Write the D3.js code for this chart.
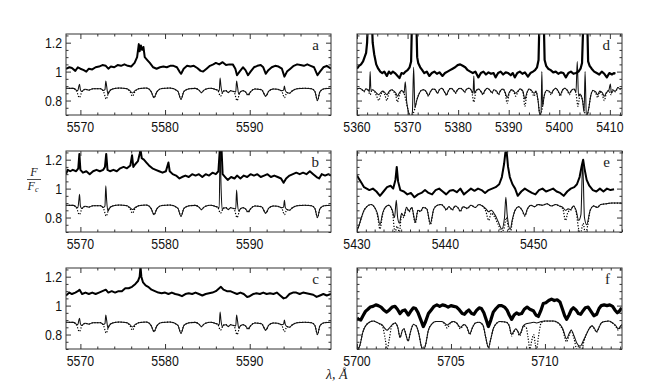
<!DOCTYPE html>
<html><head><meta charset="utf-8">
<script src="https://cdn.jsdelivr.net/npm/d3@7"></script>
<style>body{margin:0;background:#fff}svg{display:block}</style>
</head><body><svg id="c" width="660" height="390"></svg>
<script>
// ---------------- DATA ----------------
const leftTicks=[5570,5580,5590], leftTickLabels=["5570","5580","5590"];
const dTicks=[5360,5370,5380,5390,5400,5410], dTickLabels=["5360","5370","5380","5390","5400","5410"];
const eTicks=[5430,5440,5450], eTickLabels=["5430","5440","5450"];
const fTicks=[5700,5705,5710], fTickLabels=["5700","5705","5710"];
const yTicks=[0.8,1,1.2], yTickLabels=["0.8","1","1.2"];
const panelLetters=["a","b","c","d","e","f"];

const obsA=[[5568.3,1.02],[5568.7,1.03],[5569.0,1.025],[5569.4,1.005],[5569.7,1.03],[5570.0,1.02],[5570.4,1.01],[5570.7,1.0],[5571.0,1.02],[5571.4,1.015],[5571.8,1.03],[5572.2,1.035],[5572.6,1.045],[5573.0,1.04],[5573.3,1.02],[5573.6,1.035],[5574.0,1.03],[5574.4,1.045],[5574.8,1.04],[5575.2,1.05],[5575.6,1.04],[5576.0,1.035],[5576.4,1.06],[5576.7,1.1],[5576.9,1.19],[5577.0,1.14],[5577.15,1.18],[5577.3,1.15],[5577.45,1.17],[5577.6,1.1],[5577.9,1.08],[5578.2,1.06],[5578.6,1.03],[5579.0,1.02],[5579.4,1.03],[5579.8,1.035],[5580.2,1.03],[5580.6,1.04],[5581.0,1.04],[5581.4,1.03],[5581.7,1.0],[5581.9,0.985],[5582.2,1.02],[5582.6,1.04],[5583.0,1.035],[5583.4,1.04],[5583.8,1.025],[5584.2,1.005],[5584.5,1.0],[5584.9,1.02],[5585.3,1.04],[5585.7,1.05],[5586.0,1.06],[5586.4,1.05],[5586.8,1.065],[5587.2,1.045],[5587.6,1.05],[5588.0,1.05],[5588.3,1.02],[5588.5,0.975],[5588.8,1.0],[5589.2,1.03],[5589.5,1.01],[5589.8,0.975],[5590.1,1.0],[5590.5,1.03],[5590.9,1.04],[5591.3,1.045],[5591.6,1.03],[5591.9,0.985],[5592.2,1.01],[5592.6,1.03],[5593.0,1.04],[5593.4,1.035],[5593.8,1.02],[5594.1,0.965],[5594.4,1.0],[5594.8,1.02],[5595.2,1.04],[5595.6,1.05],[5596.0,1.045],[5596.4,1.04],[5596.8,1.05],[5597.2,1.04],[5597.6,1.03],[5598.0,0.975],[5598.3,1.0],[5598.7,1.03],[5599.1,1.04],[5599.6,1.02]];

const obsB=[[5568.3,1.1],[5568.5,1.13],[5568.8,1.12],[5569.1,1.13],[5569.5,1.12],[5569.75,1.14],[5569.88,1.24],[5570.0,1.13],[5570.3,1.11],[5570.7,1.12],[5571.1,1.1],[5571.5,1.12],[5571.9,1.13],[5572.3,1.12],[5572.7,1.13],[5572.9,1.15],[5573.05,1.24],[5573.2,1.13],[5573.5,1.12],[5573.9,1.13],[5574.3,1.12],[5574.7,1.14],[5575.1,1.15],[5575.5,1.14],[5575.9,1.16],[5576.1,1.23],[5576.25,1.15],[5576.5,1.17],[5576.8,1.19],[5577.0,1.24],[5577.1,1.27],[5577.25,1.21],[5577.5,1.2],[5577.8,1.18],[5578.1,1.16],[5578.5,1.14],[5578.9,1.13],[5579.3,1.12],[5579.7,1.11],[5580.1,1.12],[5580.4,1.18],[5580.55,1.12],[5580.9,1.1],[5581.3,1.09],[5581.7,1.07],[5582.0,1.08],[5582.4,1.09],[5582.8,1.08],[5583.2,1.1],[5583.6,1.09],[5584.0,1.1],[5584.4,1.08],[5584.8,1.1],[5585.2,1.09],[5585.6,1.11],[5586.0,1.1],[5586.3,1.12],[5586.5,1.3],[5586.65,1.3],[5586.8,1.1],[5587.1,1.08],[5587.4,1.06],[5587.8,1.08],[5588.2,1.07],[5588.5,1.09],[5588.9,1.07],[5589.3,1.09],[5589.7,1.08],[5590.1,1.1],[5590.5,1.09],[5590.9,1.1],[5591.3,1.08],[5591.7,1.09],[5592.1,1.1],[5592.5,1.08],[5592.9,1.09],[5593.3,1.08],[5593.7,1.07],[5594.0,1.04],[5594.3,1.07],[5594.7,1.09],[5595.1,1.1],[5595.5,1.11],[5595.9,1.1],[5596.3,1.11],[5596.7,1.1],[5597.1,1.12],[5597.5,1.1],[5597.9,1.08],[5598.2,1.07],[5598.5,1.1],[5598.9,1.09],[5599.3,1.1],[5599.6,1.09]];

const obsC=[[5568.3,1.07],[5568.7,1.09],[5569.0,1.08],[5569.4,1.09],[5569.7,1.1],[5569.9,1.11],[5570.2,1.08],[5570.6,1.09],[5571.0,1.08],[5571.4,1.09],[5571.8,1.08],[5572.2,1.09],[5572.6,1.1],[5573.0,1.11],[5573.3,1.09],[5573.7,1.1],[5574.1,1.09],[5574.5,1.1],[5574.9,1.1],[5575.3,1.12],[5575.7,1.12],[5576.1,1.13],[5576.5,1.15],[5576.8,1.17],[5577.0,1.2],[5577.1,1.27],[5577.2,1.2],[5577.4,1.16],[5577.7,1.14],[5578.0,1.13],[5578.4,1.11],[5578.8,1.1],[5579.2,1.09],[5579.6,1.085],[5580.0,1.09],[5580.4,1.08],[5580.8,1.09],[5581.2,1.08],[5581.6,1.075],[5582.0,1.065],[5582.4,1.08],[5582.8,1.085],[5583.2,1.08],[5583.6,1.09],[5584.0,1.08],[5584.4,1.07],[5584.8,1.08],[5585.2,1.085],[5585.6,1.09],[5586.0,1.1],[5586.4,1.12],[5586.6,1.13],[5586.9,1.11],[5587.3,1.1],[5587.7,1.1],[5588.1,1.09],[5588.5,1.08],[5588.9,1.09],[5589.3,1.08],[5589.7,1.06],[5590.0,1.065],[5590.4,1.08],[5590.8,1.085],[5591.2,1.08],[5591.6,1.09],[5592.0,1.08],[5592.4,1.085],[5592.8,1.08],[5593.2,1.09],[5593.6,1.07],[5594.0,1.05],[5594.3,1.055],[5594.7,1.08],[5595.1,1.09],[5595.5,1.09],[5595.9,1.08],[5596.3,1.09],[5596.7,1.085],[5597.1,1.08],[5597.5,1.075],[5597.9,1.06],[5598.3,1.07],[5598.7,1.08],[5599.1,1.07],[5599.6,1.08]];

const modelAbsLeft=[[5568.3,0.885],[5569.2,0.884],[5569.55,0.865],[5569.88,0.82],[5570.2,0.865],[5570.6,0.878],[5571.0,0.872],[5571.5,0.882],[5572.4,0.882],[5572.75,0.86],[5573.05,0.81],[5573.35,0.86],[5573.8,0.88],[5574.6,0.886],[5575.5,0.882],[5575.85,0.862],[5576.15,0.83],[5576.45,0.862],[5576.9,0.882],[5577.8,0.886],[5578.35,0.862],[5578.7,0.82],[5579.05,0.862],[5579.6,0.883],[5580.6,0.886],[5581.5,0.865],[5581.88,0.81],[5582.25,0.865],[5582.9,0.882],[5583.6,0.884],[5584.0,0.872],[5584.3,0.855],[5584.6,0.872],[5585.3,0.885],[5586.2,0.872],[5586.55,0.83],[5586.9,0.865],[5587.2,0.868],[5587.45,0.855],[5587.75,0.868],[5588.15,0.86],[5588.5,0.80],[5588.85,0.855],[5589.2,0.868],[5589.5,0.86],[5589.8,0.835],[5590.1,0.86],[5590.6,0.88],[5591.4,0.875],[5591.9,0.83],[5592.25,0.865],[5592.8,0.88],[5593.3,0.878],[5593.8,0.862],[5594.1,0.82],[5594.4,0.855],[5594.7,0.85],[5595.0,0.866],[5595.6,0.882],[5596.5,0.885],[5597.3,0.882],[5597.7,0.862],[5598.0,0.80],[5598.3,0.862],[5598.8,0.882],[5599.6,0.885]];

const modelEmisAC=[[5568.3,0.885],[5569.2,0.884],[5569.5,0.872],[5569.7,0.868],[5569.82,0.9],[5569.9,0.913],[5570.0,0.875],[5570.15,0.862],[5570.35,0.872],[5570.6,0.878],[5571.0,0.872],[5571.5,0.882],[5572.4,0.882],[5572.7,0.87],[5572.9,0.875],[5573.0,0.935],[5573.1,0.9],[5573.25,0.845],[5573.45,0.865],[5573.8,0.88],[5574.6,0.886],[5575.5,0.882],[5575.85,0.868],[5576.15,0.852],[5576.45,0.868],[5576.9,0.882],[5577.8,0.886],[5578.35,0.862],[5578.7,0.82],[5579.05,0.862],[5579.6,0.883],[5580.6,0.886],[5581.5,0.865],[5581.88,0.81],[5582.25,0.865],[5582.9,0.882],[5583.6,0.884],[5584.0,0.872],[5584.3,0.855],[5584.6,0.872],[5585.3,0.885],[5586.2,0.872],[5586.4,0.868],[5586.5,0.955],[5586.6,0.9],[5586.75,0.855],[5586.95,0.866],[5587.2,0.868],[5587.45,0.855],[5587.75,0.868],[5588.15,0.862],[5588.35,0.86],[5588.45,0.935],[5588.55,0.9],[5588.7,0.845],[5588.9,0.86],[5589.2,0.868],[5589.5,0.86],[5589.8,0.84],[5590.1,0.86],[5590.6,0.88],[5591.4,0.875],[5591.9,0.83],[5592.25,0.865],[5592.8,0.88],[5593.3,0.878],[5593.8,0.868],[5594.0,0.872],[5594.1,0.9],[5594.2,0.87],[5594.4,0.855],[5594.7,0.85],[5595.0,0.866],[5595.6,0.882],[5596.5,0.885],[5597.3,0.882],[5597.7,0.862],[5598.0,0.80],[5598.3,0.862],[5598.8,0.882],[5599.6,0.885]];

const modelEmisB=[[5568.3,0.885],[5569.2,0.884],[5569.5,0.872],[5569.7,0.868],[5569.82,0.92],[5569.9,0.96],[5570.0,0.88],[5570.15,0.862],[5570.35,0.872],[5570.6,0.878],[5571.0,0.872],[5571.5,0.882],[5572.4,0.882],[5572.7,0.87],[5572.9,0.88],[5573.0,1.02],[5573.1,0.92],[5573.25,0.845],[5573.45,0.865],[5573.8,0.88],[5574.6,0.886],[5575.5,0.882],[5575.85,0.868],[5576.15,0.855],[5576.45,0.868],[5576.9,0.882],[5577.8,0.886],[5578.35,0.862],[5578.7,0.82],[5579.05,0.862],[5579.6,0.883],[5580.6,0.886],[5581.5,0.865],[5581.88,0.81],[5582.25,0.865],[5582.9,0.882],[5583.6,0.884],[5584.0,0.872],[5584.3,0.855],[5584.6,0.872],[5585.3,0.885],[5586.2,0.872],[5586.4,0.868],[5586.5,1.3],[5586.62,1.0],[5586.75,0.855],[5586.95,0.866],[5587.2,0.868],[5587.45,0.855],[5587.75,0.868],[5588.15,0.862],[5588.35,0.86],[5588.45,0.99],[5588.55,0.9],[5588.7,0.845],[5588.9,0.86],[5589.2,0.868],[5589.5,0.86],[5589.8,0.84],[5590.1,0.86],[5590.6,0.88],[5591.4,0.875],[5591.9,0.83],[5592.25,0.865],[5592.8,0.88],[5593.3,0.878],[5593.8,0.868],[5594.0,0.872],[5594.1,0.92],[5594.2,0.87],[5594.4,0.855],[5594.7,0.85],[5595.0,0.866],[5595.6,0.882],[5596.5,0.885],[5597.3,0.882],[5597.7,0.862],[5598.0,0.80],[5598.3,0.862],[5598.8,0.882],[5599.6,0.885]];

const obsD=[[5360.0,1.02],[5360.4,1.04],[5360.8,1.05],[5361.2,1.07],[5361.5,1.1],[5361.8,1.13],[5362.0,1.2],[5362.2,1.4],[5362.9,1.4],[5363.1,1.2],[5363.4,1.12],[5363.8,1.05],[5364.2,1.02],[5364.6,1.0],[5365.0,0.99],[5365.4,1.0],[5365.9,0.97],[5366.3,1.0],[5366.7,0.985],[5367.1,1.0],[5367.5,0.99],[5367.9,0.975],[5368.4,0.955],[5368.8,0.99],[5369.2,0.985],[5369.6,1.0],[5370.0,1.01],[5370.4,1.03],[5370.7,1.07],[5370.9,1.4],[5371.7,1.4],[5371.9,1.1],[5372.1,1.06],[5372.5,1.03],[5372.9,1.01],[5373.3,0.99],[5373.8,1.0],[5374.3,0.97],[5374.8,0.99],[5375.3,1.0],[5375.8,0.985],[5376.3,0.995],[5376.9,0.97],[5377.4,0.99],[5377.9,1.0],[5378.4,1.01],[5378.9,1.02],[5379.4,1.03],[5379.9,1.045],[5380.4,1.05],[5380.9,1.04],[5381.4,1.03],[5381.9,1.01],[5382.4,1.0],[5382.9,0.99],[5383.4,1.0],[5384.0,0.96],[5384.5,0.99],[5385.0,1.0],[5385.5,0.98],[5386.0,0.995],[5386.5,0.985],[5387.0,0.99],[5387.4,0.96],[5387.9,0.99],[5388.4,1.0],[5388.9,0.98],[5389.4,0.995],[5389.9,0.99],[5390.4,0.975],[5390.8,0.99],[5391.2,0.96],[5391.7,0.99],[5392.2,1.0],[5392.7,0.985],[5393.2,0.995],[5393.8,0.965],[5394.3,0.99],[5394.8,1.0],[5395.2,1.01],[5395.6,1.03],[5395.9,1.08],[5396.1,1.4],[5396.9,1.4],[5397.1,1.08],[5397.4,1.04],[5397.8,1.02],[5398.3,1.01],[5398.8,0.995],[5399.3,1.0],[5399.8,0.985],[5400.3,0.995],[5400.8,0.99],[5401.3,0.96],[5401.8,0.99],[5402.3,1.0],[5402.8,0.985],[5403.3,0.99],[5403.8,1.0],[5404.2,1.02],[5404.5,1.06],[5404.8,1.4],[5405.5,1.4],[5405.7,1.07],[5406.0,1.04],[5406.4,1.02],[5406.9,1.0],[5407.4,0.99],[5407.9,0.98],[5408.4,1.0],[5408.9,0.985],[5409.4,0.96],[5409.9,0.99],[5410.4,0.98],[5410.8,0.99],[5411.1,0.985]];

const modelAbsD=[[5360.0,0.88],[5360.5,0.885],[5361.0,0.875],[5361.4,0.86],[5361.8,0.88],[5362.2,0.87],[5362.6,0.84],[5363.0,0.875],[5363.5,0.86],[5363.9,0.83],[5364.3,0.8],[5364.7,0.84],[5365.1,0.86],[5365.5,0.84],[5365.9,0.8],[5366.3,0.85],[5366.8,0.875],[5367.3,0.86],[5367.7,0.83],[5368.0,0.79],[5368.4,0.84],[5368.9,0.87],[5369.4,0.84],[5369.8,0.78],[5370.2,0.72],[5370.6,0.68],[5371.0,0.7],[5371.4,0.74],[5371.8,0.8],[5372.2,0.84],[5372.7,0.87],[5373.2,0.875],[5373.7,0.86],[5374.1,0.83],[5374.5,0.86],[5375.0,0.88],[5375.5,0.875],[5375.9,0.85],[5376.3,0.875],[5376.8,0.885],[5377.3,0.86],[5377.7,0.835],[5378.1,0.87],[5378.6,0.885],[5379.1,0.87],[5379.5,0.85],[5379.9,0.875],[5380.4,0.885],[5380.9,0.875],[5381.3,0.855],[5381.7,0.88],[5382.2,0.885],[5382.7,0.86],[5383.1,0.79],[5383.5,0.86],[5384.0,0.88],[5384.5,0.86],[5384.9,0.84],[5385.3,0.87],[5385.8,0.885],[5386.3,0.87],[5386.7,0.85],[5387.1,0.875],[5387.6,0.86],[5388.0,0.84],[5388.4,0.87],[5388.9,0.88],[5389.3,0.85],[5389.7,0.78],[5390.1,0.85],[5390.6,0.875],[5391.0,0.86],[5391.4,0.83],[5391.8,0.86],[5392.3,0.88],[5392.8,0.86],[5393.2,0.76],[5393.6,0.85],[5394.1,0.88],[5394.6,0.86],[5395.0,0.83],[5395.4,0.86],[5395.8,0.8],[5396.2,0.7],[5396.6,0.74],[5397.0,0.83],[5397.5,0.87],[5398.0,0.86],[5398.4,0.84],[5398.8,0.87],[5399.3,0.885],[5399.8,0.86],[5400.2,0.83],[5400.6,0.87],[5401.1,0.885],[5401.6,0.87],[5402.0,0.84],[5402.4,0.87],[5402.9,0.88],[5403.3,0.85],[5403.7,0.76],[5404.1,0.84],[5404.6,0.8],[5405.0,0.72],[5405.4,0.68],[5405.8,0.74],[5406.2,0.83],[5406.7,0.87],[5407.2,0.85],[5407.6,0.82],[5408.0,0.86],[5408.5,0.84],[5408.9,0.8],[5409.3,0.85],[5409.8,0.87],[5410.2,0.84],[5410.6,0.875],[5411.1,0.86],[5411.6,0.89],[5412.0,0.88],[5412.4,0.885]];

const modelEmisD=[[5360.0,0.88],[5360.5,0.885],[5361.0,0.875],[5361.4,0.865],[5361.8,0.88],[5362.2,0.875],[5362.45,0.86],[5362.6,1.0],[5362.75,0.87],[5363.0,0.875],[5363.5,0.865],[5363.9,0.85],[5364.3,0.84],[5364.7,0.855],[5365.1,0.865],[5365.5,0.855],[5365.9,0.84],[5366.3,0.86],[5366.8,0.875],[5367.3,0.865],[5367.7,0.85],[5368.0,0.83],[5368.4,0.855],[5368.9,0.87],[5369.3,0.85],[5369.55,0.93],[5369.8,0.8],[5370.2,0.72],[5370.6,0.68],[5370.95,0.72],[5371.2,1.03],[5371.45,0.75],[5371.8,0.8],[5372.2,0.84],[5372.7,0.87],[5373.2,0.875],[5373.7,0.86],[5374.1,0.835],[5374.5,0.86],[5375.0,0.88],[5375.5,0.875],[5375.9,0.85],[5376.3,0.875],[5376.8,0.885],[5377.3,0.86],[5377.7,0.84],[5378.1,0.87],[5378.6,0.885],[5379.1,0.87],[5379.5,0.855],[5379.9,0.875],[5380.4,0.885],[5380.9,0.875],[5381.3,0.86],[5381.7,0.88],[5382.2,0.885],[5382.7,0.865],[5382.95,0.85],[5383.1,0.97],[5383.25,0.85],[5383.5,0.865],[5384.0,0.88],[5384.5,0.865],[5384.9,0.845],[5385.3,0.87],[5385.8,0.885],[5386.3,0.87],[5386.7,0.855],[5387.1,0.875],[5387.6,0.865],[5388.0,0.845],[5388.4,0.87],[5388.9,0.88],[5389.3,0.855],[5389.7,0.82],[5390.1,0.855],[5390.6,0.875],[5391.0,0.865],[5391.4,0.85],[5391.8,0.865],[5392.3,0.88],[5392.8,0.865],[5393.2,0.81],[5393.6,0.855],[5394.1,0.88],[5394.6,0.865],[5395.0,0.85],[5395.4,0.865],[5395.8,0.8],[5396.15,0.7],[5396.4,0.72],[5396.55,1.0],[5396.7,0.76],[5397.0,0.83],[5397.5,0.87],[5398.0,0.865],[5398.4,0.85],[5398.8,0.87],[5399.3,0.885],[5399.8,0.865],[5400.2,0.84],[5400.6,0.87],[5401.1,0.885],[5401.6,0.87],[5402.0,0.85],[5402.4,0.87],[5402.9,0.88],[5403.3,0.86],[5403.55,1.07],[5403.8,0.83],[5404.1,0.845],[5404.6,0.8],[5404.9,0.72],[5405.1,1.0],[5405.35,0.69],[5405.8,0.74],[5406.2,0.83],[5406.7,0.87],[5407.2,0.86],[5407.6,0.84],[5408.0,0.865],[5408.5,0.855],[5408.9,0.83],[5409.3,0.855],[5409.8,0.87],[5410.1,0.915],[5410.3,0.85],[5410.6,0.87],[5411.1,0.865],[5411.6,0.89],[5412.0,0.88],[5412.4,0.885]];

const obsE=[[5430.0,1.09],[5430.2,1.07],[5430.5,1.04],[5430.8,1.01],[5431.1,1.0],[5431.4,0.99],[5431.8,1.0],[5432.2,0.98],[5432.6,0.95],[5433.0,0.98],[5433.4,1.01],[5433.8,1.02],[5434.1,1.0],[5434.35,1.06],[5434.5,1.15],[5434.65,1.05],[5434.9,0.99],[5435.3,0.98],[5435.7,0.96],[5436.1,0.97],[5436.5,0.94],[5436.9,0.96],[5437.3,0.97],[5437.7,0.99],[5438.1,0.97],[5438.5,0.96],[5438.9,0.99],[5439.3,1.0],[5439.7,0.98],[5440.1,0.96],[5440.5,0.985],[5440.9,0.99],[5441.3,0.975],[5441.7,1.0],[5442.1,0.96],[5442.5,0.98],[5442.9,1.0],[5443.3,0.985],[5443.7,1.0],[5444.1,0.99],[5444.5,0.97],[5444.9,0.99],[5445.3,1.0],[5445.7,1.01],[5446.1,1.03],[5446.4,1.08],[5446.65,1.17],[5446.8,1.25],[5446.95,1.25],[5447.1,1.15],[5447.3,1.08],[5447.6,1.03],[5447.9,1.0],[5448.2,0.95],[5448.6,0.98],[5449.0,1.0],[5449.4,0.985],[5449.8,0.97],[5450.2,0.96],[5450.6,0.99],[5451.0,1.0],[5451.4,0.98],[5451.8,0.99],[5452.2,1.0],[5452.6,0.98],[5453.0,0.97],[5453.4,0.95],[5453.8,0.98],[5454.2,1.0],[5454.6,1.01],[5454.9,1.03],[5455.2,1.08],[5455.45,1.16],[5455.6,1.2],[5455.75,1.14],[5456.0,1.06],[5456.3,1.02],[5456.7,0.99],[5457.1,0.98],[5457.5,1.0],[5457.9,0.98],[5458.3,1.0],[5458.7,0.99],[5459.1,0.995]];

const modelAbsE=[[5430.0,0.71],[5430.2,0.74],[5430.5,0.8],[5430.8,0.85],[5431.2,0.88],[5431.6,0.89],[5432.0,0.87],[5432.3,0.82],[5432.6,0.72],[5432.9,0.82],[5433.2,0.87],[5433.6,0.885],[5434.0,0.84],[5434.3,0.7],[5434.55,0.74],[5434.8,0.7],[5435.05,0.82],[5435.3,0.8],[5435.6,0.87],[5435.9,0.84],[5436.2,0.87],[5436.6,0.76],[5436.9,0.85],[5437.2,0.84],[5437.5,0.87],[5437.9,0.86],[5438.3,0.75],[5438.7,0.86],[5439.1,0.885],[5439.5,0.89],[5439.9,0.87],[5440.1,0.85],[5440.4,0.875],[5440.8,0.85],[5441.1,0.88],[5441.4,0.87],[5441.7,0.84],[5442.0,0.875],[5442.5,0.86],[5442.9,0.885],[5443.4,0.87],[5443.8,0.89],[5444.2,0.88],[5444.6,0.84],[5444.9,0.78],[5445.2,0.83],[5445.6,0.8],[5446.0,0.75],[5446.4,0.7],[5446.7,0.74],[5446.9,0.8],[5447.1,0.74],[5447.35,0.69],[5447.6,0.78],[5447.9,0.85],[5448.3,0.875],[5448.7,0.85],[5449.0,0.81],[5449.3,0.86],[5449.7,0.885],[5450.1,0.875],[5450.5,0.89],[5451.0,0.885],[5451.5,0.895],[5452.0,0.88],[5452.5,0.89],[5452.9,0.88],[5453.3,0.86],[5453.6,0.78],[5453.9,0.84],[5454.2,0.85],[5454.5,0.88],[5454.8,0.84],[5455.1,0.72],[5455.3,0.69],[5455.6,0.76],[5455.85,0.69],[5456.1,0.74],[5456.4,0.85],[5456.8,0.88],[5457.2,0.87],[5457.6,0.89],[5458.2,0.895],[5458.8,0.9],[5459.4,0.9],[5460.0,0.9]];

const modelEmisE=[[5430.0,0.71],[5430.2,0.74],[5430.5,0.8],[5430.8,0.85],[5431.2,0.88],[5431.6,0.89],[5432.0,0.87],[5432.3,0.83],[5432.6,0.75],[5432.9,0.83],[5433.2,0.87],[5433.6,0.885],[5434.0,0.85],[5434.25,0.8],[5434.45,0.92],[5434.6,0.8],[5434.8,0.76],[5435.05,0.83],[5435.3,0.81],[5435.6,0.87],[5435.9,0.845],[5436.2,0.87],[5436.6,0.77],[5436.9,0.85],[5437.2,0.845],[5437.5,0.87],[5437.9,0.86],[5438.3,0.76],[5438.7,0.86],[5439.1,0.885],[5439.5,0.89],[5439.9,0.87],[5440.1,0.855],[5440.4,0.875],[5440.8,0.855],[5441.1,0.88],[5441.4,0.87],[5441.7,0.845],[5442.0,0.875],[5442.5,0.865],[5442.9,0.885],[5443.4,0.87],[5443.8,0.89],[5444.2,0.88],[5444.6,0.86],[5444.9,0.84],[5445.2,0.85],[5445.6,0.82],[5446.0,0.77],[5446.4,0.72],[5446.7,0.8],[5446.85,0.94],[5447.0,0.82],[5447.35,0.72],[5447.6,0.79],[5447.9,0.85],[5448.3,0.875],[5448.7,0.85],[5449.0,0.815],[5449.3,0.86],[5449.7,0.885],[5450.1,0.875],[5450.5,0.89],[5451.0,0.885],[5451.5,0.895],[5452.0,0.88],[5452.5,0.89],[5452.9,0.88],[5453.3,0.87],[5453.6,0.85],[5453.9,0.86],[5454.2,0.855],[5454.5,0.88],[5454.8,0.85],[5455.1,0.78],[5455.35,0.82],[5455.55,1.18],[5455.75,0.8],[5456.0,0.75],[5456.4,0.85],[5456.8,0.88],[5457.2,0.87],[5457.6,0.89],[5458.2,0.895],[5458.8,0.9],[5459.4,0.9],[5460.0,0.9]];

const obsF=[[5700.0,0.915],[5700.08,0.905],[5700.2,0.9],[5700.32,0.93],[5700.45,0.96],[5700.58,0.975],[5700.7,0.99],[5700.85,0.995],[5701.0,1.005],[5701.13,1.0],[5701.28,0.99],[5701.42,0.97],[5701.58,0.955],[5701.72,0.97],[5701.87,0.99],[5702.02,0.995],[5702.15,0.975],[5702.29,0.945],[5702.42,0.965],[5702.55,0.97],[5702.73,0.935],[5702.88,0.965],[5703.0,0.985],[5703.12,0.98],[5703.25,0.95],[5703.4,0.9],[5703.53,0.855],[5703.65,0.89],[5703.8,0.945],[5703.95,0.97],[5704.1,0.995],[5704.25,1.005],[5704.4,0.995],[5704.55,1.005],[5704.7,1.0],[5704.85,0.99],[5705.0,1.0],[5705.15,0.995],[5705.3,0.99],[5705.45,0.97],[5705.6,0.945],[5705.72,0.94],[5705.85,0.96],[5705.95,0.97],[5706.1,0.945],[5706.22,0.94],[5706.35,0.965],[5706.5,0.985],[5706.62,0.98],[5706.75,0.95],[5706.88,0.9],[5706.99,0.855],[5707.12,0.9],[5707.25,0.955],[5707.4,0.98],[5707.55,1.0],[5707.7,1.0],[5707.85,0.99],[5707.98,0.97],[5708.1,0.935],[5708.23,0.905],[5708.36,0.935],[5708.49,0.95],[5708.62,0.94],[5708.76,0.945],[5708.9,0.975],[5709.05,0.99],[5709.2,0.975],[5709.38,0.965],[5709.52,0.935],[5709.65,0.925],[5709.78,0.965],[5709.91,1.015],[5710.05,1.02],[5710.2,1.035],[5710.35,1.045],[5710.5,1.035],[5710.65,1.04],[5710.8,1.025],[5710.92,0.98],[5711.05,0.93],[5711.15,0.905],[5711.28,0.935],[5711.4,0.97],[5711.51,0.985],[5711.65,0.97],[5711.78,0.945],[5711.9,0.94],[5712.03,0.965],[5712.15,0.985],[5712.3,0.99],[5712.45,0.96],[5712.6,0.93],[5712.75,0.94],[5712.88,0.98],[5713.0,1.0],[5713.15,1.005],[5713.3,1.0],[5713.45,1.005],[5713.6,0.995],[5713.72,0.97],[5713.85,0.95],[5713.95,0.96],[5714.08,0.985]];

const modelAbsF=[[5700.0,0.69],[5700.14,0.72],[5700.32,0.82],[5700.6,0.88],[5700.87,0.893],[5701.05,0.885],[5701.2,0.875],[5701.35,0.86],[5701.5,0.77],[5701.6,0.7],[5701.72,0.77],[5701.85,0.86],[5702.02,0.88],[5702.17,0.85],[5702.29,0.78],[5702.42,0.83],[5702.5,0.84],[5702.6,0.8],[5702.72,0.755],[5702.85,0.82],[5703.0,0.87],[5703.15,0.86],[5703.3,0.8],[5703.42,0.72],[5703.53,0.69],[5703.65,0.73],[5703.8,0.83],[5704.0,0.875],[5704.2,0.89],[5704.5,0.89],[5704.65,0.875],[5704.8,0.845],[5704.95,0.875],[5705.12,0.89],[5705.3,0.88],[5705.5,0.84],[5705.7,0.87],[5705.85,0.85],[5706.0,0.8],[5706.15,0.85],[5706.3,0.88],[5706.5,0.885],[5706.7,0.865],[5706.85,0.78],[5706.99,0.71],[5707.12,0.77],[5707.25,0.84],[5707.45,0.88],[5707.6,0.89],[5707.95,0.885],[5708.1,0.86],[5708.23,0.79],[5708.35,0.82],[5708.45,0.835],[5708.55,0.82],[5708.65,0.79],[5708.75,0.82],[5708.85,0.86],[5709.0,0.85],[5709.1,0.78],[5709.2,0.7],[5709.3,0.76],[5709.4,0.8],[5709.48,0.74],[5709.55,0.69],[5709.65,0.78],[5709.8,0.88],[5710.0,0.893],[5710.44,0.893],[5710.65,0.885],[5710.8,0.865],[5710.95,0.83],[5711.15,0.75],[5711.3,0.8],[5711.4,0.83],[5711.55,0.77],[5711.7,0.7],[5711.8,0.72],[5711.95,0.69],[5712.05,0.74],[5712.2,0.8],[5712.35,0.84],[5712.5,0.86],[5712.62,0.84],[5712.75,0.815],[5712.88,0.85],[5713.0,0.88],[5713.2,0.89],[5713.4,0.893],[5713.6,0.88],[5713.75,0.86],[5713.9,0.83],[5714.0,0.85],[5714.1,0.87]];

const modelEmisF=[[5700.0,0.69],[5700.14,0.72],[5700.32,0.82],[5700.6,0.88],[5700.87,0.893],[5701.05,0.885],[5701.2,0.875],[5701.35,0.865],[5701.5,0.84],[5701.6,0.83],[5701.72,0.845],[5701.85,0.865],[5702.02,0.88],[5702.17,0.85],[5702.29,0.78],[5702.42,0.83],[5702.5,0.84],[5702.6,0.8],[5702.72,0.755],[5702.85,0.82],[5703.0,0.87],[5703.15,0.86],[5703.3,0.8],[5703.42,0.72],[5703.53,0.69],[5703.65,0.73],[5703.8,0.83],[5704.0,0.875],[5704.2,0.89],[5704.5,0.89],[5704.65,0.88],[5704.8,0.865],[5704.95,0.88],[5705.12,0.89],[5705.3,0.88],[5705.5,0.85],[5705.7,0.87],[5705.85,0.85],[5706.0,0.805],[5706.15,0.85],[5706.3,0.88],[5706.5,0.885],[5706.7,0.865],[5706.85,0.78],[5706.99,0.71],[5707.12,0.77],[5707.25,0.84],[5707.45,0.88],[5707.6,0.89],[5707.95,0.885],[5708.1,0.86],[5708.23,0.8],[5708.35,0.825],[5708.45,0.84],[5708.55,0.825],[5708.65,0.8],[5708.75,0.825],[5708.85,0.86],[5709.0,0.875],[5709.2,0.88],[5709.4,0.885],[5709.55,0.88],[5709.8,0.89],[5710.0,0.893],[5710.44,0.893],[5710.65,0.885],[5710.8,0.87],[5710.95,0.84],[5711.15,0.77],[5711.3,0.81],[5711.4,0.83],[5711.55,0.79],[5711.7,0.74],[5711.85,0.72],[5711.95,0.73],[5712.05,0.76],[5712.2,0.8],[5712.35,0.84],[5712.5,0.86],[5712.62,0.845],[5712.75,0.82],[5712.88,0.85],[5713.0,0.88],[5713.2,0.89],[5713.4,0.893],[5713.6,0.88],[5713.75,0.865],[5713.9,0.84],[5714.0,0.855],[5714.1,0.87]];

// ---------------- LAYOUT ----------------
const colX=[66,357], colW=265, rowY=[34,151,268], rowH=81;
const yDomain=[0.7,1.26];
const panels=[
 {col:0,row:0,dom:[5568.3,5599.6],ticks:leftTicks,labels:leftTickLabels,minor:2,obs:obsA,abs:modelAbsLeft,emis:modelEmisAC,obsW:2.0},
 {col:0,row:1,dom:[5568.3,5599.6],ticks:leftTicks,labels:leftTickLabels,minor:2,obs:obsB,abs:modelAbsLeft,emis:modelEmisB,obsW:2.0},
 {col:0,row:2,dom:[5568.3,5599.6],ticks:leftTicks,labels:leftTickLabels,minor:2,obs:obsC,abs:modelAbsLeft,emis:modelEmisAC,obsW:2.0},
 {col:1,row:0,dom:[5360,5412.4],ticks:dTicks,labels:dTickLabels,minor:2,obs:obsD,abs:modelAbsD,emis:modelEmisD,obsW:2.2},
 {col:1,row:1,dom:[5430,5460],ticks:eTicks,labels:eTickLabels,minor:1,obs:obsE,abs:modelAbsE,emis:modelEmisE,obsW:2.0},
 {col:1,row:2,dom:[5700,5714.1],ticks:fTicks,labels:fTickLabels,minor:0.5,obs:obsF,abs:modelAbsF,emis:modelEmisF,obsW:3.2}
];
const sans="'Liberation Sans', Arial, Helvetica, sans-serif";
const serif="'Liberation Serif', 'Times New Roman', serif";
const svg=d3.select("#c");
svg.append("rect").attr("width",660).attr("height",390).attr("fill","#fff");
const defs=svg.append("defs");
const frameCol="#333";

panels.forEach((p,i)=>{
  const x0=colX[p.col], y0=rowY[p.row];
  const sx=d3.scaleLinear().domain(p.dom).range([x0,x0+colW]);
  const sy=d3.scaleLinear().domain(yDomain).range([y0+rowH,y0]);
  const cid="clip"+i;
  defs.append("clipPath").attr("id",cid).append("rect").attr("x",x0).attr("y",y0).attr("width",colW).attr("height",rowH);
  const g=svg.append("g");
  const plot=g.append("g").attr("clip-path",`url(#${cid})`);
  const smooth=d3.line().x(d=>sx(d[0])).y(d=>sy(d[1])).curve(d3.curveMonotoneX);
  const jag=d3.line().x(d=>sx(d[0])).y(d=>sy(d[1]));
  plot.append("path").attr("d",smooth(p.abs)).attr("fill","none").attr("stroke","#000").attr("stroke-width",1.2).attr("stroke-dasharray","1.2,1.6");
  plot.append("path").attr("d",smooth(p.emis)).attr("fill","none").attr("stroke","#111").attr("stroke-width",1.05);
  plot.append("path").attr("d",jag(p.obs)).attr("fill","none").attr("stroke","#000").attr("stroke-width",p.obsW).attr("stroke-linejoin","round");

  // ticks
  const minorX=d3.range(Math.ceil(p.dom[0]/p.minor)*p.minor,p.dom[1]+1e-9,p.minor).filter(v=>!p.ticks.some(t=>Math.abs(t-v)<1e-6));
  const minorY=d3.range(0.7,1.26,0.05).filter(v=>!yTicks.some(t=>Math.abs(t-v)<1e-6));
  const axes=[
    [d3.axisBottom(sx),`translate(0,${y0+rowH})`,p.ticks,minorX],
    [d3.axisTop(sx),`translate(0,${y0})`,p.ticks,minorX],
    [d3.axisLeft(sy),`translate(${x0},0)`,yTicks,minorY],
    [d3.axisRight(sy),`translate(${x0+colW},0)`,yTicks,minorY]
  ];
  axes.forEach(([ax,tr,maj,mnr])=>{
    const a1=g.append("g").attr("transform",tr).call(ax.tickValues(maj).tickSize(-5).tickFormat(""));
    const a2=g.append("g").attr("transform",tr).call(ax.tickValues(mnr).tickSize(-2.5).tickFormat(""));
    [a1,a2].forEach(a=>{a.select(".domain").remove();a.selectAll("line").attr("stroke",frameCol);});
  });
  g.append("rect").attr("x",x0).attr("y",y0).attr("width",colW).attr("height",rowH)
   .attr("fill","none").attr("stroke",frameCol).attr("stroke-width",1);

  // x tick labels
  p.ticks.forEach((t,k)=>{
    g.append("text").attr("transform",`translate(${sx(t)},${y0+rowH+17}) scale(0.88,1)`)
     .attr("text-anchor","middle").attr("font-family",sans).attr("font-size",14).attr("fill","#111").text(p.labels[k]);
  });
  if(p.col===0){
    yTicks.forEach((t,k)=>{
      g.append("text").attr("transform",`translate(${x0-4},${sy(t)+5}) scale(0.88,1)`)
       .attr("text-anchor","end").attr("font-family",sans).attr("font-size",14).attr("fill","#111").text(yTickLabels[k]);
    });
  }
  g.append("text").attr("x",x0+colW-12).attr("y",y0+16).attr("text-anchor","end")
   .attr("font-family",serif).attr("font-size",15).attr("fill","#222").text(panelLetters[i]);
});

// axis labels
const yl=svg.append("g").attr("font-family",serif).attr("font-style","italic").attr("fill","#222");
yl.append("text").attr("x",34).attr("y",176).attr("text-anchor","middle").attr("font-size",12).text("F");
yl.append("line").attr("x1",27).attr("x2",41).attr("y1",179.5).attr("y2",179.5).attr("stroke","#222").attr("stroke-width",0.8);
const fc=yl.append("text").attr("x",33).attr("y",190).attr("text-anchor","middle").attr("font-size",12);
fc.append("tspan").text("F");
fc.append("tspan").attr("font-size",8).attr("dy",2).text("c");
svg.append("text").attr("x",326).attr("y",379).attr("font-family",serif).attr("font-style","italic")
  .attr("font-size",14).attr("fill","#222").text("λ, Å");
</script></body></html>
